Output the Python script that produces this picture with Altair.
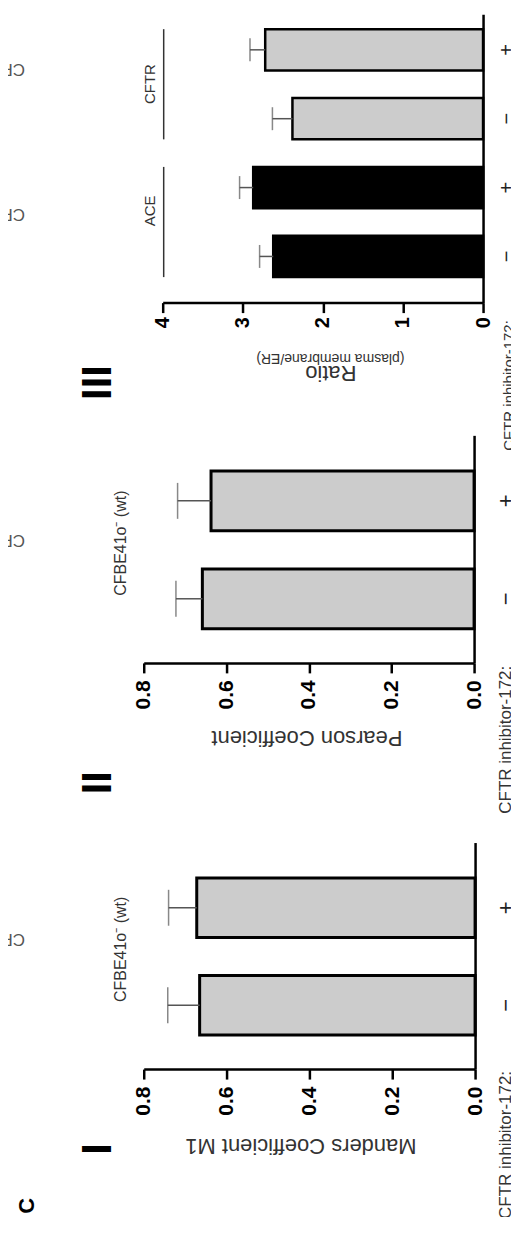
import altair as alt
import pandas as pd

FONT = "Liberation Sans"

# ---------------- data ----------------
# Panel I  (Manders Coefficient M1), categories listed top -> bottom
m1_cats = ["+", "−"]
m1_vals = [0.672, 0.665]
m1_errs = [0.068, 0.077]

# Panel II (Pearson Coefficient)
p_cats = ["+", "−"]
p_vals = [0.637, 0.658]
p_errs = [0.081, 0.064]

# Panel III (Ratio plasma membrane / ER)
r_cats = ["CFTR +", "CFTR −", "ACE +", "ACE −"]
r_groups = ["CFTR", "CFTR", "ACE", "ACE"]
r_vals = [2.72, 2.38, 2.87, 2.62]
r_errs = [0.19, 0.25, 0.17, 0.17]
r_bracket_start = ["CFTR +", "ACE +"]
r_bracket_end = ["CFTR −", "ACE −"]

coef_ticks = [0, 0.2, 0.4, 0.6, 0.8]
ratio_ticks = [0, 1, 2, 3, 4]

group_colors = {"ACE": "#000000", "CFTR": "#cccccc", "wt": "#cccccc"}


def note(text, x, y, angle=270, size=16, weight="normal", align="center",
         color="#333333"):
    return alt.Chart(pd.DataFrame({"t": [text]})).mark_text(
        angle=angle, fontSize=size, fontWeight=weight, align=align,
        baseline="middle", font=FONT, color=color
    ).encode(x=alt.value(x), y=alt.value(y), text="t:N")


def panel(cats, vals, errs, groups, dmax, ticks, fmt, title, width, height,
          x_end, pi, po, al, cap, sw, tx, ty, lab_size, lab_pad, cat_pad,
          cat_size=22, label_expr=None, extra_layers=()):
    df = pd.DataFrame({
        "cat": cats, "val": vals, "err": errs,
        "hi": [v + e for v, e in zip(vals, errs)], "grp": groups,
    })
    xscale = alt.Scale(domain=[0, dmax], range=[width, x_end], nice=False)
    yscale = alt.Scale(domain=cats, paddingInner=pi, paddingOuter=po, align=al)
    yaxis_kw = dict(orient="right", ticks=False, domainColor="black",
                    domainWidth=2.5, labelAngle=270, labelAlign="center",
                    labelBaseline="middle", labelFontSize=cat_size,
                    labelFont=FONT, labelColor="#222222",
                    labelPadding=cat_pad, title=None, grid=False)
    if label_expr:
        yaxis_kw["labelExpr"] = label_expr
    xaxis = alt.Axis(
        values=ticks, format=fmt, labelAngle=270, labelAlign="right",
        labelBaseline="middle", labelFontSize=lab_size,
        labelFontWeight="bold", labelFont=FONT, labelColor="black",
        labelPadding=lab_pad, labelFlush=False, labelOverlap=False,
        tickSize=10, tickWidth=2.5, tickColor="black",
        domainColor="black", domainWidth=2.5, grid=False,
        title=title, titleAngle=180, titleBaseline="middle",
        titleAlign="center", titleX=tx, titleY=ty, titleFontSize=22,
        titleFontWeight="normal", titleColor="#333333", titleFont=FONT)
    yaxis = alt.Axis(**yaxis_kw)
    base = alt.Chart(df)
    bars = base.mark_bar(stroke="black", strokeWidth=sw).encode(
        x=alt.X("val:Q", scale=xscale, axis=xaxis),
        y=alt.Y("cat:N", scale=yscale, axis=yaxis),
        color=alt.Color("grp:N", scale=alt.Scale(
            domain=list(group_colors.keys()),
            range=list(group_colors.values())), legend=None),
    )
    err_rule = base.mark_rule(color="#555555", strokeWidth=1.5).encode(
        x=alt.X("val:Q", scale=xscale, axis=xaxis),
        x2="hi:Q",
        y=alt.Y("cat:N", scale=yscale, axis=yaxis),
    )
    err_cap = base.mark_tick(color="#555555", thickness=1.5, size=cap).encode(
        x=alt.X("hi:Q", scale=xscale, axis=xaxis),
        y=alt.Y("cat:N", scale=yscale, axis=yaxis),
    )
    layers = [bars, err_rule, err_cap] + list(extra_layers)
    return alt.layer(*layers).properties(width=width, height=height)


# ---------------- panel III ----------------
W3, H3 = 340, 289
bracket_df = pd.DataFrame({"bstart": r_bracket_start, "bend": r_bracket_end})
r_yscale = alt.Scale(domain=r_cats, paddingInner=0.40, paddingOuter=0.294,
                     align=0.37)
brackets = alt.Chart(bracket_df).mark_rule(color="#333333", strokeWidth=1.5).encode(
    x=alt.value(20),
    y=alt.Y("bstart:N", bandPosition=0, scale=r_yscale),
    y2=alt.Y2("bend:N", bandPosition=1),
)
p3_notes = [
    brackets,
    note("CFTR", 6, 70, size=15),
    note("ACE", 6, 197, size=15),
    note("III", -46, 369, size=42, weight="bold", color="black"),
    note("(plasma membrane/ER)", 187, 344, angle=180, size=14),
    note("CFTR inhibitor-172:", 366, 372, size=15),
    note("CF", -119, 55, angle=180, size=17, align="left", color="#555555"),
    note("CF", -119, 200, angle=180, size=17, align="left", color="#555555"),
]
p3 = panel(r_cats, r_vals, r_errs, r_groups, 4, ratio_ticks, "d", "Ratio",
           W3, H3, 19, 0.40, 0.294, 0.37, 23, 2.5, 187, 70, 20, 4, 24,
           cat_size=20, label_expr="slice(datum.label, -1)",
           extra_layers=p3_notes)

# ---------------- panel II ----------------
p2_notes = [
    note("CFBE41o⁻ (wt)", -23, 108, size=16),
    note("II", -46, 348, size=42, weight="bold", color="black"),
    note("CFTR inhibitor-172:", 363, 305, size=17),
    note("CF", -119, 105, angle=180, size=17, align="left", color="#555555"),
]
p2 = panel(p_cats, p_vals, p_errs, ["wt", "wt"], 0.8, coef_ticks, ".1f",
           "Pearson Coefficient", 331, 228, 0, 0.39, 0.357, 0.51, 36, 3,
           163, 75, 21, 7, 32, extra_layers=p2_notes)

# ---------------- panel I ----------------
p1_notes = [
    note("CFBE41o⁻ (wt)", -23, 107, size=16),
    note("I", -46, 307, size=42, weight="bold", color="black"),
    note("C", -117, 364, size=22, weight="bold", color="black"),
    note("CFTR inhibitor-172:", 363, 303, size=17),
    note("CF", -119, 97, angle=180, size=17, align="left", color="#555555"),
]
p1 = panel(m1_cats, m1_vals, m1_errs, ["wt", "wt"], 0.8, coef_ticks, ".1f",
           "Manders Coefficient M1", 332, 227, 0, 0.39, 0.357, 0.51, 36, 3,
           157, 77, 21, 7, 31, extra_layers=p1_notes)


def spacer(h):
    return alt.Chart(pd.DataFrame({"z": [0]})).mark_point(opacity=0).encode(
        x=alt.value(0), y=alt.value(0)).properties(width=1, height=h)


chart = alt.vconcat(p3, spacer(133), p2, spacer(180), p1, spacing=0,
                    bounds="flush").properties(
    padding={"left": -6, "top": 5, "right": -6, "bottom": -4}
).configure(font=FONT).configure_view(strokeWidth=0)

chart.save("out.html", embed_options={"renderer": "svg", "actions": False})
